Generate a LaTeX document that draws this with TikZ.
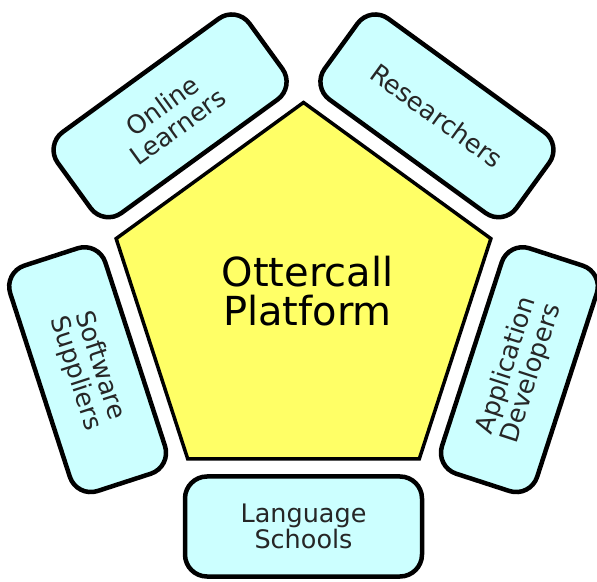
\documentclass[tikz,border=0pt]{standalone}
\usepackage{fontspec}
\setmainfont{DejaVu Sans}
\usetikzlibrary{shapes.geometric}
\definecolor{boxfill}{HTML}{CCFFFF}
\definecolor{pentfill}{HTML}{FFFF66}
\begin{document}
\begin{tikzpicture}[x=1pt,y=1pt,
  stakeholder/.style={draw=black, line width=4.5pt, fill=boxfill, rounded corners=22pt,
    minimum width=237pt, minimum height=100pt, inner sep=0pt, align=center,
    text=black!85, font=\fontsize{25.5}{26}\selectfont},
  platform/.style={draw=black, line width=3.5pt, fill=pentfill, regular polygon,
    regular polygon sides=5, minimum size=394pt, inner sep=0pt},
  titletext/.style={align=center, font=\fontsize{40}{39}\selectfont}]
\useasboundingbox (0,0) rectangle (597,581);
\coordinate (c) at (303.5,281.5);
\node[platform] (pent) at (c) {};
\node[titletext] (title) at ([shift={(4,8.5)}]c) {Ottercall\\Platform};
\node[stakeholder] (ls) at ([shift={(270:227)}]c) {Language\\Schools};
\node[stakeholder, rotate=72] (ad) at ([shift={(-18:227)}]c) {Application\\Developers};
\node[stakeholder, rotate=-36] (rs) at ([shift={(54:227)}]c) {Researchers};
\node[stakeholder, rotate=36] (ol) at ([shift={(126:227)}]c) {Online\\Learners};
\node[stakeholder, rotate=-72] (ss) at ([shift={(198:227)}]c) {Software\\Suppliers};
\end{tikzpicture}
\end{document}
